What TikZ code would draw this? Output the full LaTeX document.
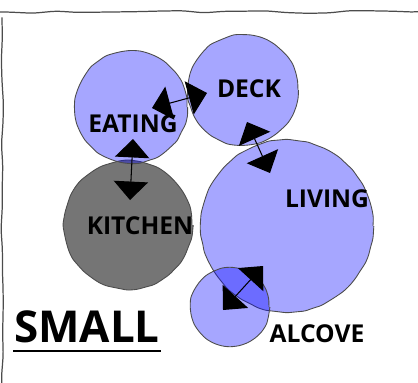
\documentclass[tikz,border=0pt]{standalone}
\usepackage{fontspec}
\setmainfont{Open Sans}
\usetikzlibrary{arrows.meta,decorations.pathmorphing}

\tikzset{
  wobble/.style={decorate, decoration={random steps, segment length=5pt, amplitude=0.35pt}, rounded corners=1.5pt},
  room/.style={circle, draw=black!70, line width=0.5pt, fill=blue, fill opacity=0.35, inner sep=0pt, outer sep=0pt, wobble},
  lbl/.style={font=\bfseries\fontsize{14}{16}\selectfont, inner sep=0pt},
  link/.style={line width=0.6pt, {Triangle[length=10.5pt,width=19.5pt]}-{Triangle[length=10.5pt,width=19.5pt]}},
}

\begin{document}
\begin{tikzpicture}[x=0.02cm, y=-0.02cm]
\pgfmathsetseed{7}
\useasboundingbox (0,0) rectangle (418,382);
\clip (0,0) rectangle (418,382);
% frame:
\draw[black!70, line width=0.7pt, decorate, decoration={random steps, segment length=12pt, amplitude=0.8pt}, rounded corners=3pt] (2,12) rectangle (440,400);
% rooms:
\node[room, fill=black!54, fill opacity=1, minimum size=2.56cm] (kitchen) at (128,225) {};
\node[room, minimum size=2.24cm] (eating) at (131,107) {};
\node[room, minimum size=2.2cm] (deck) at (243,90) {};
\node[room, minimum size=3.44cm] (living) at (287,226) {};
\node[room, minimum size=1.56cm] (alcove) at (230,307) {};
% labels:
\node[lbl] (eatinglbl) at (133,124) {EATING};
\node[lbl] (decklbl) at (249,89) {DECK};
\node[lbl] (kitchenlbl) at (140,226) {KITCHEN};
\node[lbl] (livinglbl) at (327,199) {LIVING};
\node[lbl] (alcovelbl) at (317,334) {ALCOVE};
\node[font=\bfseries\fontsize{25}{30}\selectfont, inner sep=0pt] (small) at (87,327) {SMALL};
\draw[line width=1.2pt] ([xshift=-0.5pt, yshift=-4.5pt]small.south west) -- ([xshift=0.5pt, yshift=-4.5pt]small.south east);
% links:
\coordinate (ek1) at (133,139); \coordinate (ek2) at (130,200);
\coordinate (ed1) at (152,108); \coordinate (ed2) at (207,93);
\coordinate (dl1) at (247,122); \coordinate (dl2) at (270,173);
\coordinate (la1) at (263,266); \coordinate (la2) at (223,310);
\draw[link] (ek1) -- (ek2);
\draw[link] (ed1) -- (ed2);
\draw[link] (dl1) -- (dl2);
\draw[link] (la1) -- (la2);
\end{tikzpicture}
\end{document}
